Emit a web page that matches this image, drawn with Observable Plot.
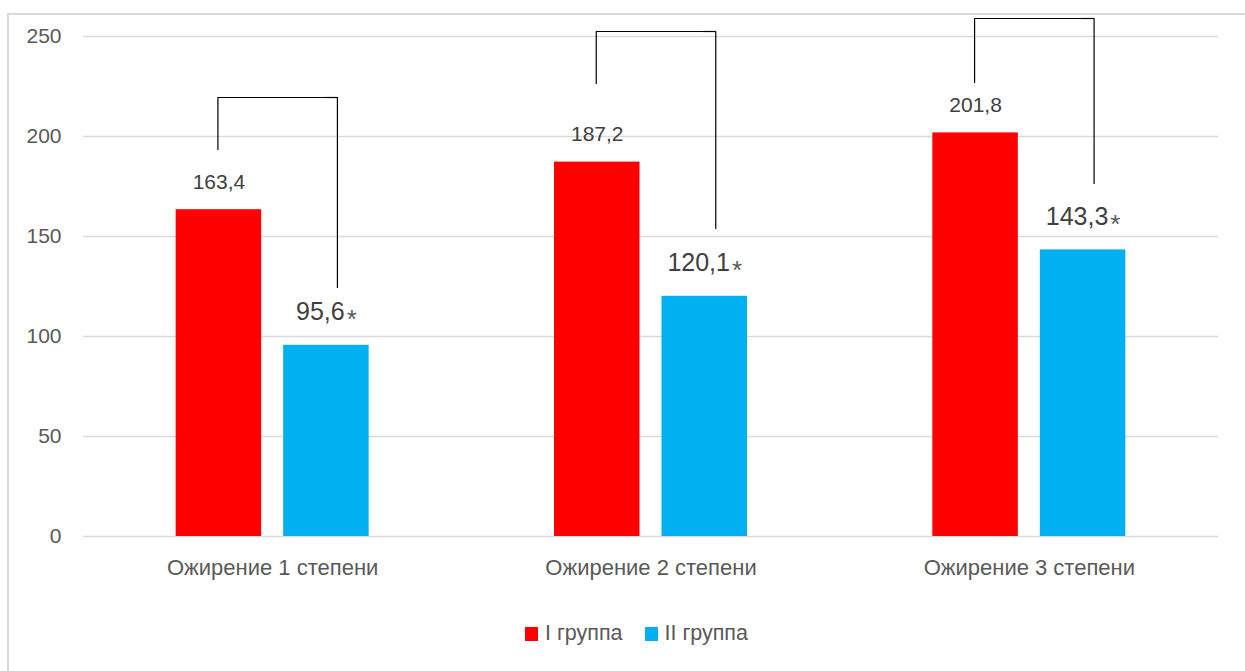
<!DOCTYPE html>
<html lang="ru">
<head>
<meta charset="utf-8">
<script src="https://cdn.jsdelivr.net/npm/d3@7"></script>
<script src="https://cdn.jsdelivr.net/npm/@observablehq/plot@0.6"></script>
<style>
  html, body { margin: 0; padding: 0; background: #fff; }
  #wrap { position: relative; width: 1245px; height: 671px; overflow: hidden; font-family: "Liberation Sans", Arial, sans-serif; }
  #frame { position: absolute; left: 7px; top: 13px; right: -4px; bottom: -4px; border-top: 2px solid #d9d9d9; border-left: 2px solid #d9d9d9; }
  #chart { position: absolute; left: 0; top: 0; }
  #legend { position: absolute; left: 525px; top: 621px; display: flex; align-items: center; font-size: 21.5px; color: #595959; }
  #legend .item { display: flex; align-items: center; margin-right: 22px; }
  #legend .sw { width: 13px; height: 14px; margin-right: 7px; }
</style>
</head>
<body>
<div id="wrap">
  <div id="frame"></div>
  <div id="chart"></div>
  <div id="legend"></div>
</div>
<script>
// Obesity degree categories and the two patient groups
const categories = ["Ожирение 1 степени", "Ожирение 2 степени", "Ожирение 3 степени"];
const groups = ["I группа", "II группа"];
const groupColors = ["#ff0000", "#00b0f0"];

// Mean values per group
const groupI = [163.4, 187.2, 201.8];
const groupII = [95.6, 120.1, 143.3];

// Y axis ticks
const yTicks = [0, 50, 100, 150, 200, 250];

// Significance brackets between group I and group II (y levels)
const bracketTop = [219.5, 252.5, 259];
const bracketLeftEnd = [193.5, 226.5, 227];
const bracketRightEnd = [124.5, 154, 176.5];

const fmt = v => v.toFixed(1).replace(".", ",");

const rowsI = categories.map((c, i) => ({cat: c, group: groups[0], value: groupI[i]}));
const rowsII = categories.map((c, i) => ({cat: c, group: groups[1], value: groupII[i]}));
const rows = rowsI.concat(rowsII);

// Bracket left part: group I leg plus the top span
const bracketLeft = categories.flatMap((c, i) => [
  {cat: c, group: groups[0], y: bracketLeftEnd[i]},
  {cat: c, group: groups[0], y: bracketTop[i]},
  {cat: c, group: groups[1], y: bracketTop[i]}
]);
// Bracket right leg over group II
const bracketRight = categories.flatMap((c, i) => [
  {cat: c, group: groups[1], y: bracketTop[i]},
  {cat: c, group: groups[1], y: bracketRightEnd[i]}
]);
const bracketCaps = categories.map((c, i) => ({cat: c, group: groups[1], y: bracketTop[i]}));

const chart = Plot.plot({
  width: 1245,
  height: 600,
  marginLeft: 83,
  marginRight: 27,
  marginTop: 36,
  marginBottom: 64,
  style: {fontFamily: "'Liberation Sans', Arial, sans-serif", background: "transparent", overflow: "visible"},
  fx: {domain: categories, padding: 0, round: false, label: null},
  x: {domain: groups, paddingInner: 0.2047, paddingOuter: 0.862, round: false, axis: null},
  y: {domain: [0, 250]},
  color: {domain: groups, range: groupColors},
  marks: [
    Plot.ruleY(yTicks, {stroke: "#d9d9d9", strokeWidth: 1.6}),
    Plot.axisY({ticks: yTicks, tickSize: 0, tickPadding: 22, fontSize: 21, color: "#595959", label: null, tickFormat: d => String(d)}),
    Plot.axisFx({anchor: "bottom", tickSize: 0, tickPadding: 23, fontSize: 22, color: "#595959", label: null}),
    Plot.barY(rows, {fx: "cat", x: "group", y: "value", fill: "group"}),
    Plot.text(rowsI, {fx: "cat", x: "group", y: "value", text: d => fmt(d.value), dy: -27.5, fontSize: 21, fill: "#404040"}),
    Plot.text(rowsII, {fx: "cat", x: "group", y: "value", text: d => fmt(d.value), dy: -33, fontSize: 25, fill: "#404040"}),
    Plot.line(bracketLeft, {fx: "cat", x: "group", y: "y", z: "cat", stroke: "#000", strokeWidth: 1.2, dx: -1}),
    Plot.line(bracketRight, {fx: "cat", x: "group", y: "y", z: "cat", stroke: "#000", strokeWidth: 1.2, dx: 11}),
    Plot.tickY(bracketCaps, {fx: "cat", x: "group", y: "y", stroke: "#000", strokeWidth: 1.2, insetLeft: 41.5, insetRight: 31.2})
  ]
});
document.getElementById("chart").appendChild(chart);

// Significance asterisk after each group II value (the 25px value labels)
chart.querySelectorAll('g[font-size="25"] text').forEach(t => {
  const s = document.createElementNS("http://www.w3.org/2000/svg", "tspan");
  s.setAttribute("font-size", "26");
  s.setAttribute("dx", "2");
  s.setAttribute("dy", "8");
  s.setAttribute("fill", "#595959");
  s.textContent = "*";
  t.appendChild(s);
});

// Legend
const legend = d3.select("#legend");
groups.forEach((g, i) => {
  const item = legend.append("div").attr("class", "item");
  item.append("div").attr("class", "sw").style("background", groupColors[i]);
  item.append("span").text(g);
});
</script>
</body>
</html>
